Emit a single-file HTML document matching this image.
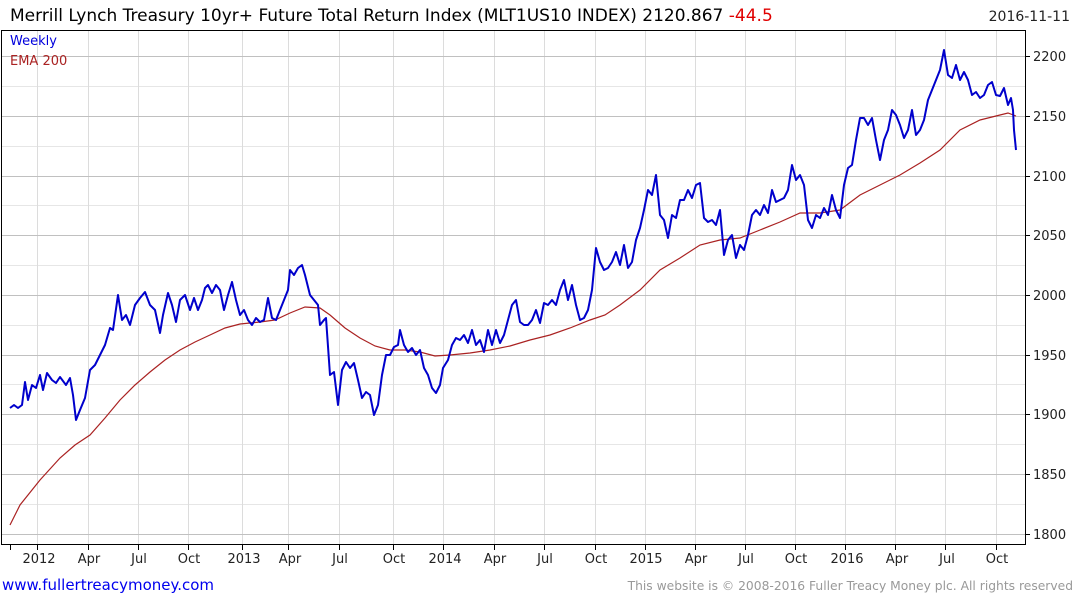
<!DOCTYPE html>
<html><head><meta charset="utf-8"><style>
body{margin:0;background:#fff;}
svg{display:block;font-family:"DejaVu Sans","Liberation Sans",sans-serif;}
</style></head><body>
<svg width="1075" height="600" viewBox="0 0 1075 600" xmlns="http://www.w3.org/2000/svg">
<rect width="1075" height="600" fill="#fff"/>
<text x="10" y="21" font-size="17" fill="#000">Merrill Lynch Treasury 10yr+ Future Total Return Index (MLT1US10 INDEX) 2120.867 <tspan fill="#e00000">-44.5</tspan></text>
<text x="1070" y="21" font-size="14" fill="#222" text-anchor="end">2016-11-11</text>
<g stroke="#e6e6e6" stroke-width="1">
<line x1="2" x2="1025" y1="86.5" y2="86.5"/><line x1="2" x2="1025" y1="146.5" y2="146.5"/><line x1="2" x2="1025" y1="205.5" y2="205.5"/><line x1="2" x2="1025" y1="265.5" y2="265.5"/><line x1="2" x2="1025" y1="325.5" y2="325.5"/><line x1="2" x2="1025" y1="384.5" y2="384.5"/><line x1="2" x2="1025" y1="444.5" y2="444.5"/><line x1="2" x2="1025" y1="504.5" y2="504.5"/>
</g>
<g stroke="#dcdcdc" stroke-width="1">
<line y1="30" y2="544" x1="37.5" x2="37.5"/><line y1="30" y2="544" x1="88.5" x2="88.5"/><line y1="30" y2="544" x1="138.5" x2="138.5"/><line y1="30" y2="544" x1="188.5" x2="188.5"/><line y1="30" y2="544" x1="242.5" x2="242.5"/><line y1="30" y2="544" x1="288.5" x2="288.5"/><line y1="30" y2="544" x1="339.5" x2="339.5"/><line y1="30" y2="544" x1="393.5" x2="393.5"/><line y1="30" y2="544" x1="443.5" x2="443.5"/><line y1="30" y2="544" x1="494.5" x2="494.5"/><line y1="30" y2="544" x1="544.5" x2="544.5"/><line y1="30" y2="544" x1="595.5" x2="595.5"/><line y1="30" y2="544" x1="645.5" x2="645.5"/><line y1="30" y2="544" x1="695.5" x2="695.5"/><line y1="30" y2="544" x1="745.5" x2="745.5"/><line y1="30" y2="544" x1="795.5" x2="795.5"/><line y1="30" y2="544" x1="845.5" x2="845.5"/><line y1="30" y2="544" x1="895.5" x2="895.5"/><line y1="30" y2="544" x1="945.5" x2="945.5"/><line y1="30" y2="544" x1="996.5" x2="996.5"/>
</g>
<g stroke="#c0c0c0" stroke-width="1">
<line x1="2" x2="1025" y1="56.5" y2="56.5"/><line x1="2" x2="1025" y1="116.5" y2="116.5"/><line x1="2" x2="1025" y1="176.5" y2="176.5"/><line x1="2" x2="1025" y1="235.5" y2="235.5"/><line x1="2" x2="1025" y1="295.5" y2="295.5"/><line x1="2" x2="1025" y1="355.5" y2="355.5"/><line x1="2" x2="1025" y1="414.5" y2="414.5"/><line x1="2" x2="1025" y1="474.5" y2="474.5"/><line x1="2" x2="1025" y1="534.5" y2="534.5"/>
</g>
<rect x="1.5" y="30.5" width="1024" height="514" fill="none" stroke="#000" stroke-width="1"/>
<g stroke="#000" stroke-width="1">
<line x1="1025" x2="1030" y1="56.5" y2="56.5"/><line x1="1025" x2="1030" y1="116.5" y2="116.5"/><line x1="1025" x2="1030" y1="176.5" y2="176.5"/><line x1="1025" x2="1030" y1="235.5" y2="235.5"/><line x1="1025" x2="1030" y1="295.5" y2="295.5"/><line x1="1025" x2="1030" y1="355.5" y2="355.5"/><line x1="1025" x2="1030" y1="414.5" y2="414.5"/><line x1="1025" x2="1030" y1="474.5" y2="474.5"/><line x1="1025" x2="1030" y1="534.5" y2="534.5"/>
<line y1="544" y2="550" x1="10.5" x2="10.5"/><line y1="544" y2="550" x1="37.5" x2="37.5"/><line y1="544" y2="550" x1="88.5" x2="88.5"/><line y1="544" y2="550" x1="138.5" x2="138.5"/><line y1="544" y2="550" x1="188.5" x2="188.5"/><line y1="544" y2="550" x1="242.5" x2="242.5"/><line y1="544" y2="550" x1="288.5" x2="288.5"/><line y1="544" y2="550" x1="339.5" x2="339.5"/><line y1="544" y2="550" x1="393.5" x2="393.5"/><line y1="544" y2="550" x1="443.5" x2="443.5"/><line y1="544" y2="550" x1="494.5" x2="494.5"/><line y1="544" y2="550" x1="544.5" x2="544.5"/><line y1="544" y2="550" x1="595.5" x2="595.5"/><line y1="544" y2="550" x1="645.5" x2="645.5"/><line y1="544" y2="550" x1="695.5" x2="695.5"/><line y1="544" y2="550" x1="745.5" x2="745.5"/><line y1="544" y2="550" x1="795.5" x2="795.5"/><line y1="544" y2="550" x1="845.5" x2="845.5"/><line y1="544" y2="550" x1="895.5" x2="895.5"/><line y1="544" y2="550" x1="945.5" x2="945.5"/><line y1="544" y2="550" x1="996.5" x2="996.5"/>
</g>
<g font-size="13" fill="#222">
<text x="1033" y="61">2200</text><text x="1033" y="121">2150</text><text x="1033" y="181">2100</text><text x="1033" y="240">2050</text><text x="1033" y="300">2000</text><text x="1033" y="360">1950</text><text x="1033" y="419">1900</text><text x="1033" y="479">1850</text><text x="1033" y="539">1800</text>
</g>
<g font-size="13" fill="#222" text-anchor="middle">
<text x="39" y="563">2012</text><text x="89" y="563">Apr</text><text x="139" y="563">Jul</text><text x="189" y="563">Oct</text><text x="244" y="563">2013</text><text x="290" y="563">Apr</text><text x="340" y="563">Jul</text><text x="394" y="563">Oct</text><text x="445" y="563">2014</text><text x="495" y="563">Apr</text><text x="545" y="563">Jul</text><text x="596" y="563">Oct</text><text x="646" y="563">2015</text><text x="696" y="563">Apr</text><text x="746" y="563">Jul</text><text x="796" y="563">Oct</text><text x="847" y="563">2016</text><text x="897" y="563">Apr</text><text x="947" y="563">Jul</text><text x="997" y="563">Oct</text>
</g>
<text x="10" y="45" font-size="13" fill="#0000dd">Weekly</text>
<text x="10" y="65" font-size="13" fill="#aa2222">EMA 200</text>
<polyline fill="none" stroke="#aa2222" stroke-width="1.2" points="10,525 20,505 40,480 60,458 75,445 90,435 105,418 120,400 135,385 150,372 165,360 180,350 195,342 210,335 225,328 240,324 260,322 275,320 290,313 305,307 320,308 330,315 345,328 360,338 375,346 390,350 405,350 420,352 435,356 450,355 470,353 490,350 510,346 530,340 550,335 570,328 590,320 605,315 620,305 640,290 660,270 680,258 700,245 720,240 740,238 760,230 780,222 800,213 820,213 840,210 860,195 880,185 900,175 920,163 940,150 960,130 980,120 1000,115 1008,113 1016,116"/>
<polyline fill="none" stroke="#0000cc" stroke-width="2" stroke-linejoin="round" points="10,408 14,405 18,408 22,405 25,382 28,400 32,385 36,388 40,375 43,390 47,373 52,380 56,383 60,377 66,385 70,378 73,395 76,420 80,410 85,398 90,370 95,365 100,355 105,345 110,328 113,330 118,295 122,320 126,315 130,325 135,305 140,298 145,292 150,305 155,310 160,333 163,315 168,293 172,305 176,322 180,300 185,295 190,310 194,298 198,310 202,300 205,288 208,285 212,293 216,285 220,290 224,310 228,295 232,282 236,300 240,315 244,310 248,320 252,325 256,318 260,322 264,320 268,298 272,318 276,320 280,310 284,300 288,290 290,270 294,275 298,268 302,265 305,275 310,295 314,300 318,305 320,325 324,320 326,318 330,375 334,372 338,405 342,370 346,362 350,368 354,363 358,380 362,398 366,392 370,395 374,415 378,405 382,375 386,355 390,355 394,347 398,345 400,330 404,345 408,352 412,348 416,355 420,350 424,368 428,375 432,388 436,393 440,385 443,368 448,360 452,345 456,338 460,340 464,335 468,343 472,330 476,345 480,340 484,352 488,330 492,345 496,330 500,343 504,335 508,320 512,305 516,300 520,322 524,325 528,325 532,320 536,310 540,323 544,303 548,305 552,300 556,305 560,290 564,280 568,300 572,285 576,305 580,320 584,318 588,310 592,290 596,248 600,262 604,270 608,268 612,262 616,252 620,265 624,245 628,268 632,262 636,240 640,228 644,210 648,190 652,195 656,175 660,215 664,220 668,238 672,215 676,218 680,200 684,200 688,190 692,198 696,185 700,183 704,218 708,222 712,220 716,225 720,210 724,255 728,240 732,235 736,258 740,245 744,250 748,235 752,215 756,210 760,215 764,205 768,213 772,190 776,202 780,200 784,198 788,190 792,165 796,180 800,175 804,185 808,220 812,228 816,215 820,218 824,208 828,215 832,195 836,210 840,218 844,185 848,168 852,165 856,140 860,118 864,118 868,125 872,118 876,140 880,160 884,140 888,130 892,110 896,115 900,125 904,138 908,130 912,110 916,135 920,130 924,120 928,100 932,90 936,80 940,70 944,50 948,75 952,78 956,65 960,80 964,72 968,80 972,95 976,92 980,98 984,95 988,85 992,82 996,95 1000,96 1004,88 1008,105 1011,98 1013,110 1014,130 1016,150"/>
<text x="2" y="590" font-size="15" fill="#0000ee">www.fullertreacymoney.com</text>
<text x="1073" y="590" font-size="12.3" fill="#999" text-anchor="end">This website is © 2008-2016 Fuller Treacy Money plc. All rights reserved</text>
</svg>
</body></html>
